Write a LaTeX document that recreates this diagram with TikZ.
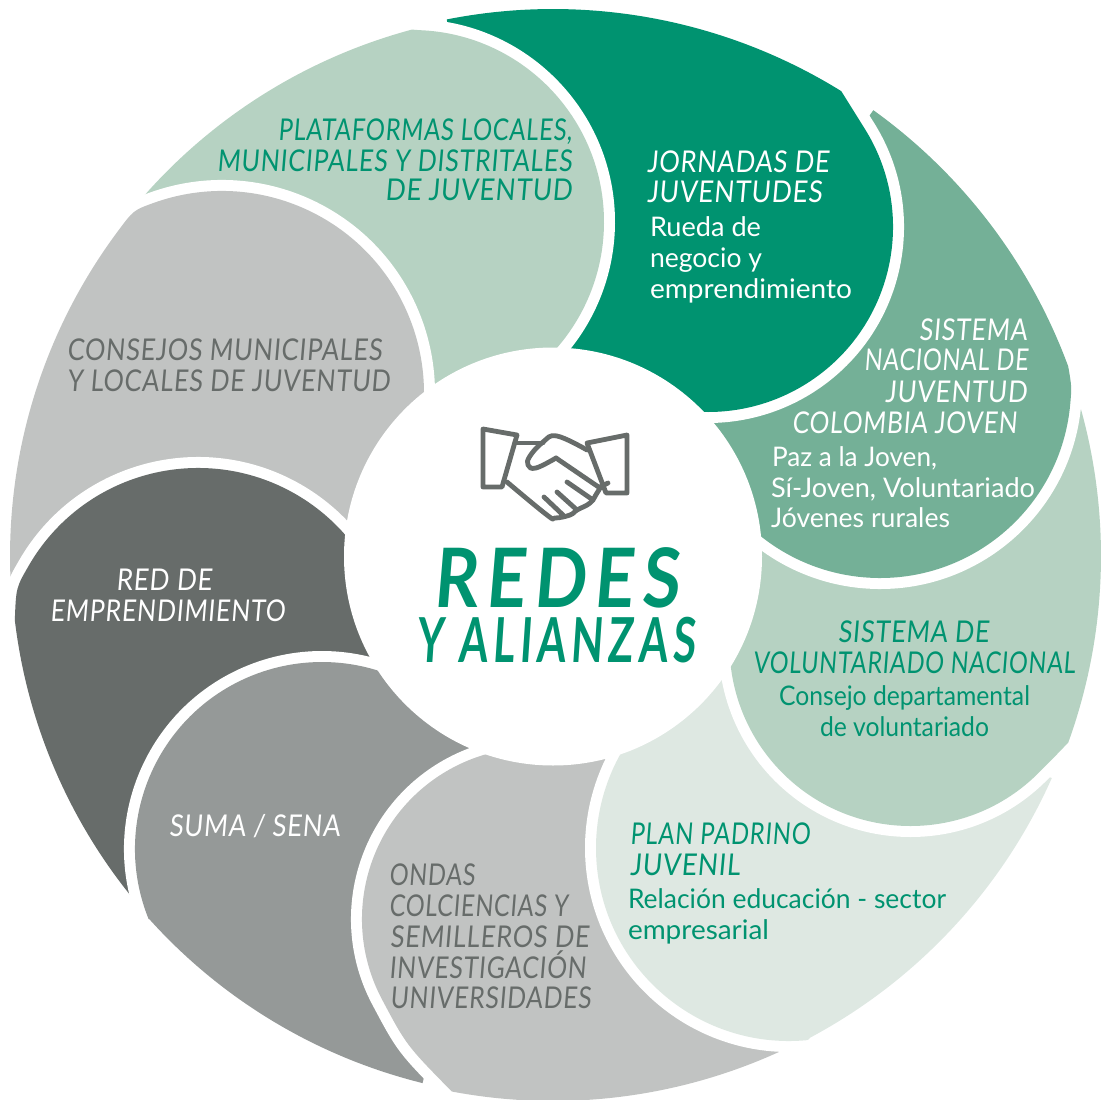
\documentclass[tikz,border=0pt]{standalone}
\usepackage{graphicx}
\usepackage{fontspec}
\newfontfamily\handfont[FakeSlant=0.1,LetterSpace=3]{Lato}
\newfontfamily\titlefont[FakeSlant=0.1,LetterSpace=12]{Lato}
\newfontfamily\bodyfont{Lato}
\definecolor{cJorn}{HTML}{009370}
\definecolor{cSist}{HTML}{74B097}
\definecolor{cPale}{HTML}{B6D2C2}
\definecolor{cPlan}{HTML}{DEE8E2}
\definecolor{cLight}{HTML}{C1C3C2}
\definecolor{cMid}{HTML}{959998}
\definecolor{cDark}{HTML}{676C6A}
\tikzset{
  gapline/.style={draw=white,line width=22pt,line cap=butt,line join=round},
  txt/.style={inner sep=0pt,outer sep=0pt,anchor=base west},
  headw/.style={txt,text=white,font=\handfont\fontsize{30}{30}\selectfont},
  headg/.style={txt,text=cJorn,font=\handfont\fontsize{30}{30}\selectfont},
  heads/.style={txt,text=cDark,font=\handfont\fontsize{30}{30}\selectfont},
  bodyw/.style={txt,text=white,font=\bodyfont\fontsize{27}{27}\selectfont},
  bodyg/.style={txt,text=cJorn,font=\bodyfont\fontsize{27}{27}\selectfont},
  iconline/.style={draw=cDark,line width=4.8pt,line join=round,line cap=round}
}
% petal: colour; round arc centre x, y, radius, start and end angle (clockwise on screen);
% outer radius, tip angle, corner angle (about the hub centre 553,556)
\newcommand\petal[9]{%
  \pgfmathsetmacro{\cnx}{553+#7*cos(#9)}%
  \pgfmathsetmacro{\cny}{556+#7*sin(#9)}%
  \pgfmathsetmacro{\stx}{#2+#4*cos(#5)}%
  \pgfmathsetmacro{\sty}{#3+#4*sin(#5)}%
  \pgfmathsetmacro{\hnd}{0.45*veclen(\stx-\cnx,\sty-\cny)}%
  \pgfmathsetmacro{\ctx}{\stx+\hnd*sin(#5)}%
  \pgfmathsetmacro{\cty}{\sty-\hnd*cos(#5)}%
  \pgfmathsetmacro{\exx}{\cnx+(\cnx-\ctx)*1.2}%
  \pgfmathsetmacro{\exy}{\cny+(\cny-\cty)*1.2}%
  \draw[gapline] (\exx,\exy) -- (\cnx,\cny) .. controls (\ctx,\cty) .. (\stx,\sty)
     arc[start angle=#5,end angle=#6,radius=#4];
  \fill[#1] (\cnx,\cny) .. controls (\ctx,\cty) .. (\stx,\sty)
     arc[start angle=#5,end angle=#6,radius=#4] -- (553,556)
     -- ({553+#7*cos(#8)},{556+#7*sin(#8)}) arc[start angle=#8,end angle=#9,radius=#7] -- cycle;
}
% text line: name, style, x-left, x-right, baseline, text
\newcommand\tl[6]{%
  \pgfmathsetlengthmacro{\tlw}{(#4-#3)*1pt}%
  \node[#2] (#1) at (#3,#5) {\resizebox{\tlw}{\height}{#6}};%
}
\newcommand\platpetal{\petal{cPale}{412}{222}{192}{-88}{55}{545}{220.4}{255}}
\begin{document}
\begin{tikzpicture}[x=1pt,y=-1pt]
\useasboundingbox (0,0) rectangle (1103,1100);
\platpetal
\petal{cLight}{222}{393}{202}{-110}{15}{543}{176.6}{216.6}
\petal{cDark}{198}{663.5}{195.5}{-150}{-20}{542}{141.1}{173.2}
\petal{cMid}{322}{849}{187}{158}{300}{543}{103.9}{138.2}
\petal{cLight}{533.5}{919}{171.5}{152}{270}{545}{65.1}{100.7}
\petal{cPlan}{789}{848}{193}{85}{225}{546}{24}{61.9}
\petal{cPale}{910.5}{645}{181}{45}{190}{548}{-15.9}{19.9}
\petal{cSist}{880}{387}{191}{5}{150}{549}{-54.3}{-20.2}
\petal{cJorn}{708}{227}{185}{-32}{120}{547}{-101.2}{-58.2}
\begin{scope}
  \clip (436,0) rectangle (700,360);
  \platpetal
\end{scope}
\node[circle,fill=white,inner sep=0pt,minimum size=418pt] (hub) at (553,556.5) {};

% handshake icon
\draw[iconline] (483,429) -- (517,435) -- (502,487) -- (483,487) -- cycle;
\draw[iconline] (587,443) -- (627,435) -- (627,493) -- (606,493) -- cycle;
\draw[iconline] (515,443) -- (543,443);
\draw[iconline] plot[smooth,tension=.7] coordinates {(587,450) (557,436) (543,442) (530,456) (528,465) (536,468) (556,458)};
\draw[iconline] (556,458) -- (600,488);
\draw[iconline] plot[smooth,tension=.7] coordinates {(507,482) (547,515) (555,518) (570,515) (577,510) (590,503) (597,493) (600,488)};
\draw[iconline] (544,497) -- (563,515);
\draw[iconline] (557,492) -- (577,510);
\draw[iconline] (567,482) -- (593,500);
\draw[iconline] (600,487) -- (608,483);

% centre title
\node[txt,text=cJorn,font=\titlefont\bfseries\fontsize{82}{82}\selectfont] (redes) at (433,607) {\resizebox{246pt}{\height}{REDES}};
\node[txt,text=cJorn,font=\titlefont\bfseries\fontsize{62}{62}\selectfont] (alianzas) at (416,662) {\resizebox{279pt}{\height}{Y ALIANZAS}};

% plataformas
\tl{p1}{headg}{278}{572}{140}{PLATAFORMAS LOCALES,}
\tl{p2}{headg}{217}{572}{171}{MUNICIPALES Y DISTRITALES}
\tl{p3}{headg}{385}{572}{200}{DE JUVENTUD}
% consejos
\tl{c1}{heads}{67}{382}{360}{CONSEJOS MUNICIPALES}
\tl{c2}{heads}{67}{390}{391}{Y LOCALES DE JUVENTUD}
% red
\tl{r1}{headw}{116}{212}{590}{RED DE}
\tl{r2}{headw}{50}{285}{621}{EMPRENDIMIENTO}
% suma
\tl{s1}{headw}{169}{340}{836}{SUMA / SENA}
% ondas
\tl{o1}{heads}{389}{475}{885}{ONDAS}
\tl{o2}{heads}{389}{568}{916}{COLCIENCIAS Y}
\tl{o3}{heads}{390}{589}{947}{SEMILLEROS DE}
\tl{o4}{heads}{389}{586}{978}{INVESTIGACIÓN}
\tl{o5}{heads}{390}{591}{1008}{UNIVERSIDADES}
% plan padrino
\tl{d1}{headg}{630}{810}{844}{PLAN PADRINO}
\tl{d2}{headg}{630}{740}{875}{JUVENIL}
\tl{d3}{bodyg}{628}{946}{908}{Relación educación - sector}
\tl{d4}{bodyg}{628}{769}{939}{empresarial}
% voluntariado
\tl{v1}{headg}{838}{989}{642}{SISTEMA DE}
\tl{v2}{headg}{753}{1075}{673}{VOLUNTARIADO NACIONAL}
\tl{v3}{bodyg}{779}{1030}{705}{Consejo departamental}
\tl{v4}{bodyg}{820}{989}{736}{de voluntariado}
% sistema nacional
\tl{n1}{headw}{919}{1027}{340}{SISTEMA}
\tl{n2}{headw}{864}{1028}{370}{NACIONAL DE}
\tl{n3}{headw}{885}{1027}{402}{JUVENTUD}
\tl{n4}{headw}{792}{1017}{433}{COLOMBIA JOVEN}
\tl{n5}{bodyw}{772}{937}{466}{Paz a la Joven,}
\tl{n6}{bodyw}{771}{1035}{497}{Sí-Joven, Voluntariado}
\tl{n7}{bodyw}{771}{950}{527}{Jóvenes rurales}
% jornadas
\tl{j1}{headw}{647}{829}{172}{JORNADAS DE}
\tl{j2}{headw}{647}{822}{202}{JUVENTUDES}
\tl{j3}{bodyw}{650}{761}{236}{Rueda de}
\tl{j4}{bodyw}{650}{762}{267}{negocio y}
\tl{j5}{bodyw}{650}{852}{298}{emprendimiento}
\end{tikzpicture}
\end{document}
